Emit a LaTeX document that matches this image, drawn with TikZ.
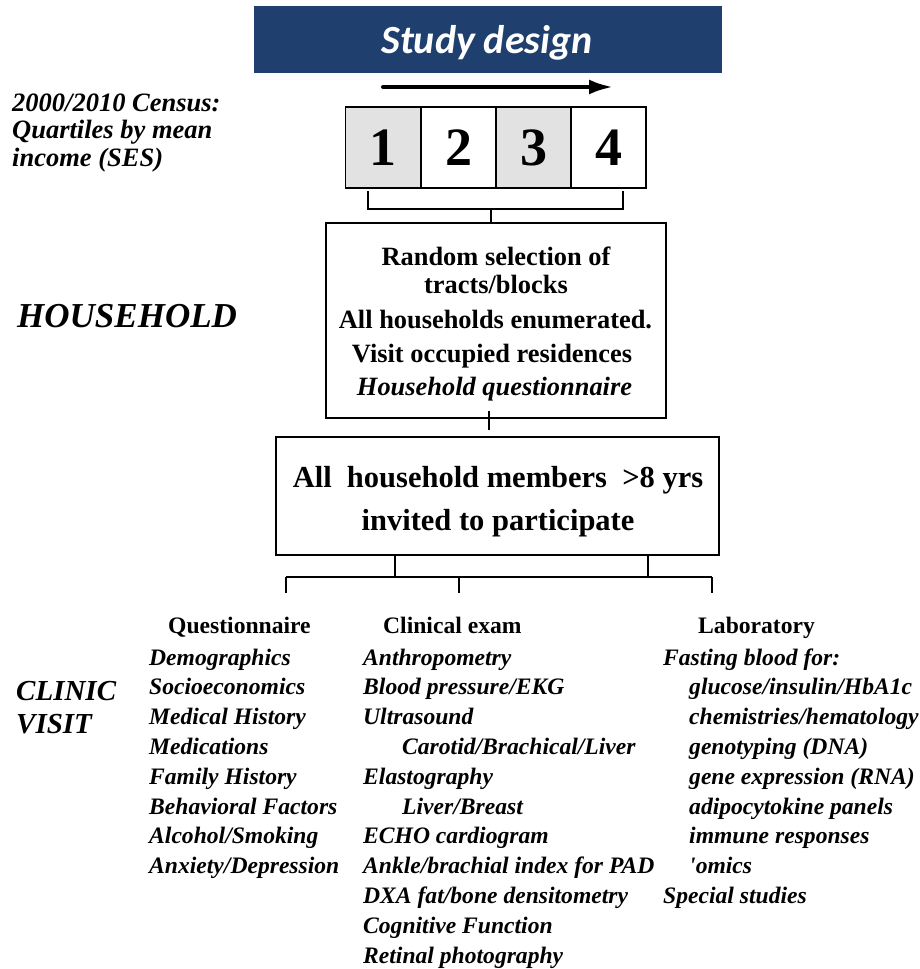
\documentclass[tikz,border=0pt]{standalone}
\usepackage{fontspec}
\setmainfont{Liberation Serif}
\newfontfamily\titlefont{Carlito}
\usetikzlibrary{arrows.meta,calc}
\definecolor{barblue}{RGB}{31,64,110}
\definecolor{qshade}{RGB}{226,226,226}
\tikzset{
  qbox/.style={draw, line width=1.6pt, minimum width=75pt, minimum height=81pt, inner sep=0pt,
    font=\fontsize{54}{54}\selectfont\bfseries},
  bigbox/.style={draw, line width=2.8pt, inner sep=0pt},
  conn/.style={line width=2.8pt},
  boxtxt/.style={anchor=base, inner sep=0pt, font=\fontsize{26.4}{26.4}\selectfont\bfseries},
  item/.style={anchor=base west, inner sep=0pt, font=\fontsize{23.6}{23.6}\selectfont\bfseries\itshape},
  head/.style={anchor=base west, inner sep=0pt, font=\fontsize{23.6}{23.6}\selectfont\bfseries},
  side/.style={anchor=base west, inner sep=0pt, font=\bfseries\itshape},
}
\begin{document}
\begin{tikzpicture}[x=1pt,y=-1pt]
\useasboundingbox (0,0) rectangle (920,969);
% title bar
\fill[barblue] (254,6) rectangle (722,73);
\node[anchor=base, inner sep=0pt, text=white, font=\titlefont\fontsize{40}{40}\selectfont\bfseries\itshape] (title) at (487,53) {Study design};
% arrow
\coordinate (as) at (383,87);
\coordinate (ae) at (613,87);
\draw[line width=4pt, line cap=round, -{Latex[length=24pt,width=15pt]}] (as) -- (ae);
% quartile boxes
\node[qbox, fill=qshade] (q1) at (383,147.5) {};
\node[qbox] (q2) at (458.5,147.5) {};
\node[qbox, fill=qshade] (q3) at (533.5,147.5) {};
\node[qbox] (q4) at (608.5,147.5) {};
\foreach \i in {1,2,3,4} \node[anchor=base, inner sep=0pt, font=\fontsize{54}{54}\selectfont\bfseries] (d\i) at ($(q\i.center)+(0,17.5)$) {\i};
% side labels
\node[side, font=\fontsize{26.5}{26.5}\selectfont\bfseries\itshape] (c1) at (12,111) {2000/2010 Census:};
\node[side, font=\fontsize{26.5}{26.5}\selectfont\bfseries\itshape] (c2) at (12,138.5) {Quartiles by mean};
\node[side, font=\fontsize{26.5}{26.5}\selectfont\bfseries\itshape] (c3) at (12,166) {income (SES)};
\node[side, font=\fontsize{35}{35}\selectfont\bfseries\itshape] (hh) at (17,327) {HOUSEHOLD};
\node[side, font=\fontsize{29}{29}\selectfont\bfseries\itshape] (cl1) at (16,700) {CLINIC};
\node[side, font=\fontsize{29}{29}\selectfont\bfseries\itshape] (cl2) at (16,733) {VISIT};
% upper bracket
\coordinate (bl) at (368,191);
\coordinate (br) at (623,191);
\coordinate (bm) at (491,209);
\draw[conn] (bl) |- (bm) -| (br);
% box 2
\node[bigbox, minimum width=340pt, minimum height=195pt] (box2) at (496,320.5) {};
\draw[conn] (bm) -- (bm |- box2.north);
\node[boxtxt] (t1) at (496,265) {Random selection of};
\node[boxtxt] (t2) at (496,293) {tracts/blocks};
\node[boxtxt] (t3) at (495.5,328) {All households enumerated.};
\node[boxtxt] (t4) at (492,362) {Visit occupied residences};
\node[boxtxt, font=\fontsize{26.4}{26.4}\selectfont\bfseries\itshape] (t5) at (494.5,395) {Household questionnaire};
% box 3
\node[bigbox, minimum width=443pt, minimum height=118pt] (box3) at (497.5,496) {};
\coordinate (m1) at (489,411);
\coordinate (m2) at (489,430);
\draw[conn] (m1) -- (m2);
\node[boxtxt, font=\fontsize{30.5}{30.5}\selectfont\bfseries] (u1) at (498,487) {All\ \ household members\ \ >8 yrs};
\node[boxtxt, font=\fontsize{30.5}{30.5}\selectfont\bfseries] (u2) at (498,530) {invited to participate};
% lower bracket
\coordinate (h1) at (286,577);
\coordinate (h2) at (712,577);
\coordinate (k1) at (395,577);
\coordinate (k2) at (648,577);
\coordinate (e1) at (286,593);
\coordinate (e2) at (459,593);
\coordinate (e3) at (712,593);
\draw[conn] (h1) -- (h2);
\draw[conn] (box3.south -| k1) -- (k1);
\draw[conn] (box3.south -| k2) -- (k2);
\draw[conn] (h1) -- (e1);
\draw[conn] (e2 |- h1) -- (e2);
\draw[conn] (h2) -- (e3);
% headers
\node[head] (hq) at (168,633) {Questionnaire};
\node[head] (hc) at (383,633) {Clinical exam};
\node[head] (hl) at (698,633) {Laboratory};
% questionnaire
\node[item] (a1) at (149,665) {Demographics};
\node[item] (a2) at (149,694.8) {Socioeconomics};
\node[item] (a3) at (149,724.6) {Medical History};
\node[item] (a4) at (149,754.4) {Medications};
\node[item] (a5) at (149,784.2) {Family History};
\node[item] (a6) at (149,814) {Behavioral Factors};
\node[item] (a7) at (149,843.8) {Alcohol/Smoking};
\node[item] (a8) at (149,873.6) {Anxiety/Depression};
% clinical
\node[item] (b1) at (363,665) {Anthropometry};
\node[item] (b2) at (363,694.8) {Blood pressure/EKG};
\node[item] (b3) at (363,724.6) {Ultrasound};
\node[item] (b4) at (402,754.4) {Carotid/Brachical/Liver};
\node[item] (b5) at (363,784.2) {Elastography};
\node[item] (b6) at (402,814) {Liver/Breast};
\node[item] (b7) at (363,843.8) {ECHO cardiogram};
\node[item] (b8) at (363,873.6) {Ankle/brachial index for PAD};
\node[item] (b9) at (363,903.4) {DXA fat/bone densitometry};
\node[item] (b10) at (363,933.2) {Cognitive Function};
\node[item] (b11) at (363,963) {Retinal photography};
% laboratory
\node[item] (l1) at (663,665) {Fasting blood for:};
\node[item] (l2) at (689,694.8) {glucose/insulin/HbA1c};
\node[item] (l3) at (689,724.6) {chemistries/hematology};
\node[item] (l4) at (689,754.4) {genotyping (DNA)};
\node[item] (l5) at (689,784.2) {gene expression (RNA)};
\node[item] (l6) at (689,814) {adipocytokine panels};
\node[item] (l7) at (689,843.8) {immune responses};
\node[item] (l8) at (689,873.6) {\textquotesingle omics};
\node[item] (l9) at (663,903.4) {Special studies};
\end{tikzpicture}
\end{document}
